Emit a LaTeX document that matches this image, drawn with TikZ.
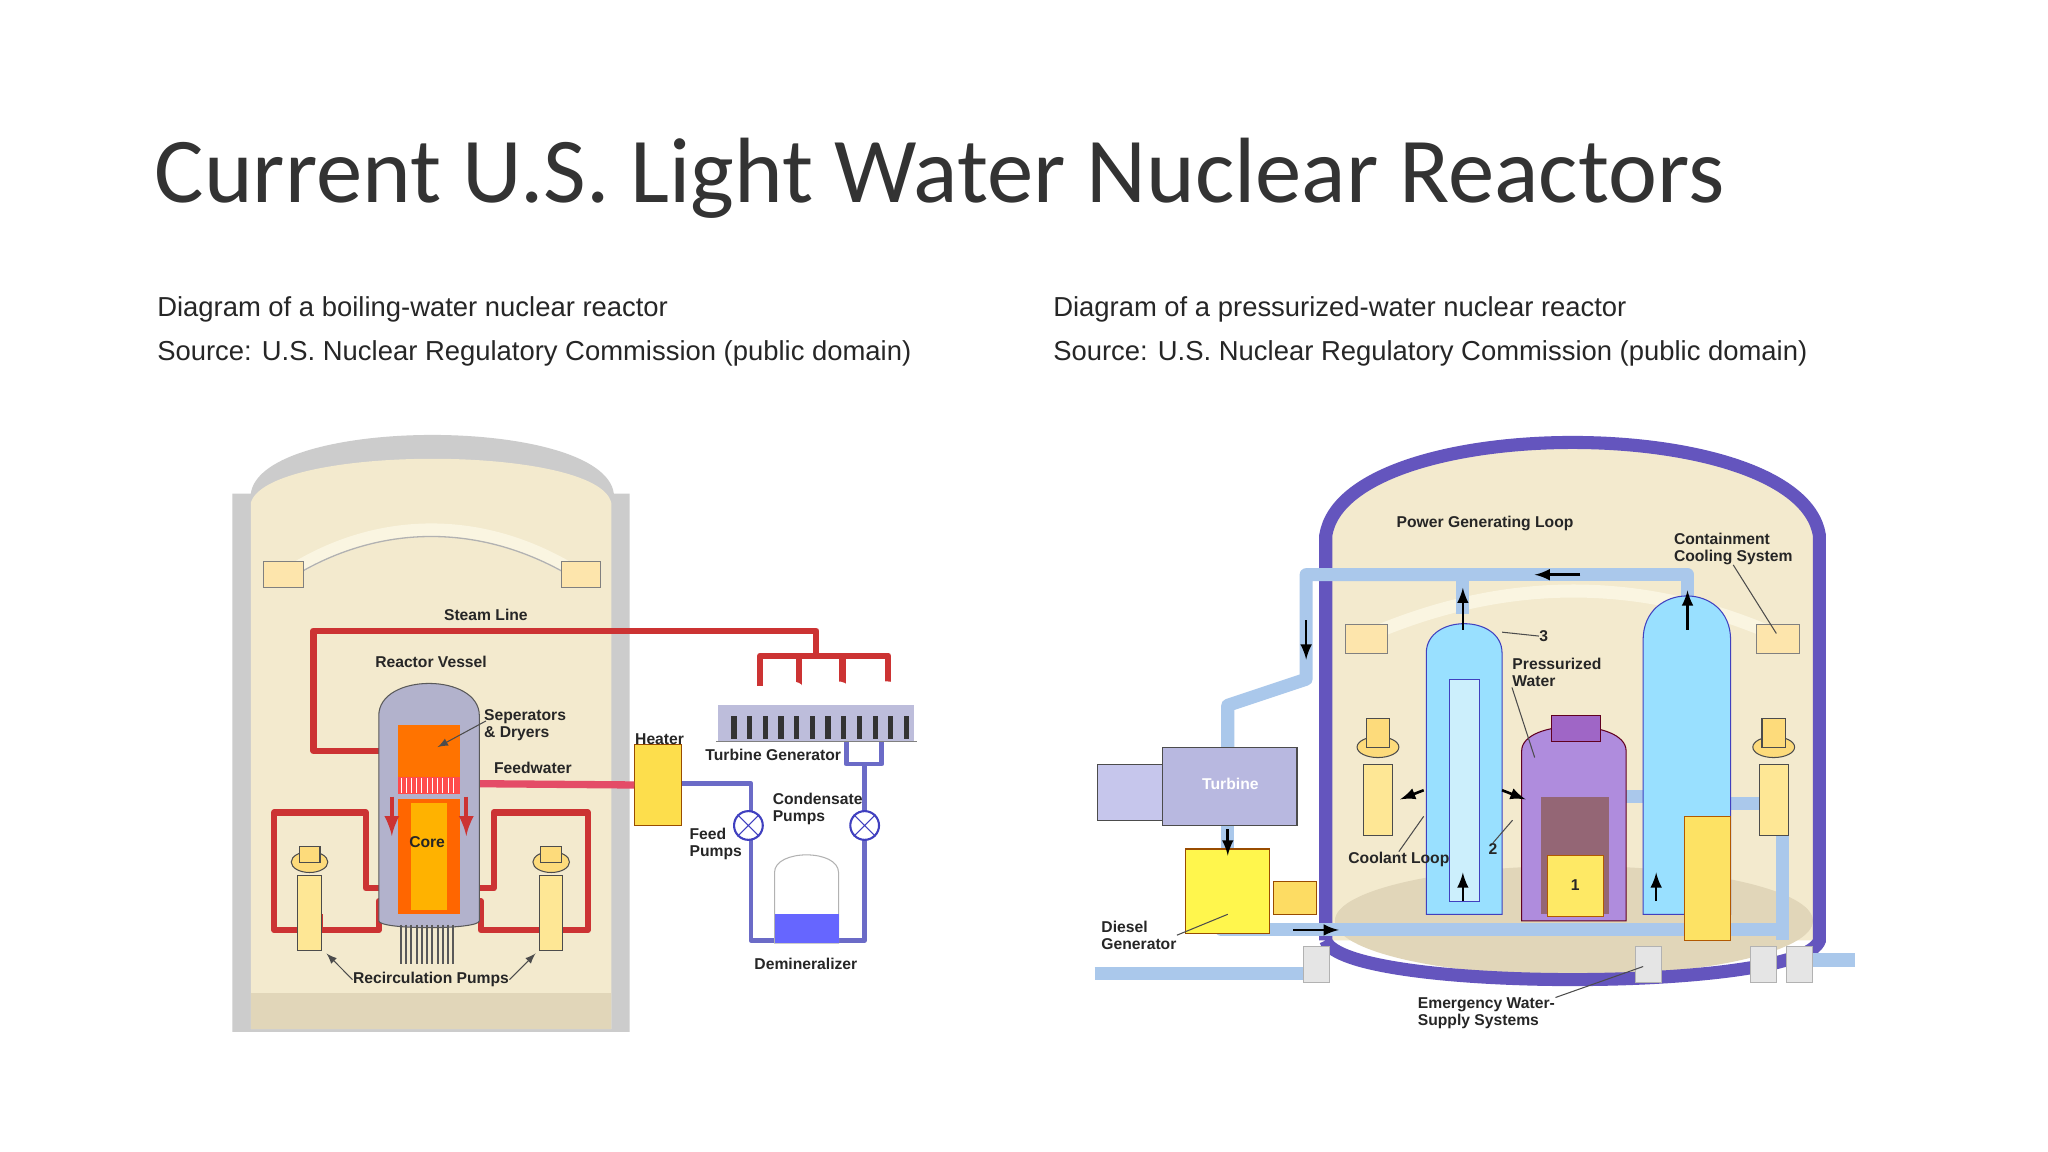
\documentclass[tikz,border=0pt]{standalone}
\usepackage{fontspec}
\setmainfont{Liberation Sans}
\newfontfamily\titlefont{Carlito}
\definecolor{bg}{RGB}{243,234,206}
\definecolor{floorc}{RGB}{225,214,185}
\definecolor{beamc}{RGB}{250,245,225}
\definecolor{purp}{RGB}{100,85,190}
\definecolor{lbp}{RGB}{170,200,235}
\begin{document}
\begin{tikzpicture}[x=0.5pt,y=-0.5pt,
 lbl/.style={font=\fontsize{6}{6.5}\selectfont\bfseries,text=black!85,inner sep=0pt,align=left},
 red pipe/.style={draw=red!75!black!80,line width=2.4pt,line join=round},
 blue pipe/.style={draw=blue!45!gray!80,line width=1.8pt,line join=round},
 lb pipe/.style={draw=lbp,line width=5pt,line join=round},
 beige/.style={fill=bg},
 sub/.style={font=\fontsize{10.5}{12}\selectfont,anchor=base west,inner sep=0pt,text=black!85}]
\useasboundingbox (0,0) rectangle (1568,882);
\fill[white] (0,0) rectangle (1568,882);
\node[anchor=base west,inner sep=0pt,font=\titlefont\fontsize{35.5}{38}\selectfont,text=black!80] (title) at (118,155) {Current U.S. Light Water Nuclear Reactors};
\node[sub] (s1) at (120,242) {Diagram of a boiling-water nuclear reactor};
\node[sub] (s2) at (120,276) {Source: U.S. Nuclear Regulatory Commission (public domain)};
\node[sub] (s3) at (806,242) {Diagram of a pressurized-water nuclear reactor};
\node[sub] (s4) at (806,276) {Source: U.S. Nuclear Regulatory Commission (public domain)};

% ===== LEFT BWR =====
\fill[gray!40] (178,790) -- (178,378) -- (192,378) .. controls (200,318) and (462,318) .. (470,378) -- (482,378) -- (482,790) -- cycle;
\fill[beige] (192,788) -- (192,385) .. controls (205,340) and (458,340) .. (468,385) -- (468,788) -- cycle;
\fill[floorc] (192,760) rectangle (468,788);
\draw[line width=5pt,draw=beamc] (222,438) .. controls (290,395) and (370,395) .. (440,438);
\draw[line width=0.5pt,gray!60] (222,443) .. controls (290,400) and (370,400) .. (440,443);
\fill[yellow!40!orange!30,draw=gray] (202,430) rectangle (232,450);
\fill[yellow!40!orange!30,draw=gray] (430,430) rectangle (460,450);
\draw[red pipe] (292,575) -- (240,575) -- (240,483) -- (625,483) -- (625,500);
\draw[red pipe] (582,525) -- (582,502) -- (680,502) -- (680,525);
\draw[red pipe] (612,502) -- (612,525);\draw[red pipe] (645,502) -- (645,525);
\foreach \x in {605,640,678}{\draw[white,fill=white] (\x,526) ellipse (9 and 4);}
\fill[blue!30!gray!40] (550,540) rectangle (700,568);
\foreach \x in {560,572,584,596,608,620,632,644,656,668,680,692}{\fill[black!80] (\x,548) rectangle (\x+4,566);}
\draw[gray] (548,568) -- (702,568);
\draw[blue pipe] (648,568) -- (648,585) -- (662,585) -- (662,720) -- (575,720) -- (575,600) -- (522,600);
\draw[blue pipe] (675,568) -- (675,585) -- (662,585);
\node[draw=blue!50!gray,fill=white,circle,minimum size=11pt,inner sep=0pt,line width=0.8pt] (fp) at (573,632) {};
\draw[blue!50!gray] (fp.north west) -- (fp.south east) (fp.north east) -- (fp.south west);
\node[draw=blue!50!gray,fill=white,circle,minimum size=11pt,inner sep=0pt,line width=0.8pt] (cp) at (662,632) {};
\draw[blue!50!gray] (cp.north west) -- (cp.south east) (cp.north east) -- (cp.south west);
\fill[white,draw=gray!60] (593,722) -- (593,668) .. controls (593,650) and (642,650) .. (642,668) -- (642,722) -- cycle;
\fill[blue!60] (593,700) rectangle (642,722);
\node[fill=yellow!70!orange!70,draw=orange!60!black,minimum width=18pt,minimum height=31pt,inner sep=0pt] (heater) at (504,601) {};
\draw[draw=purple!60!red!70,line width=2.8pt] (heater.west) -- (365,600);
\draw[red pipe] (300,680) -- (280,680) -- (280,622) -- (210,622) -- (210,712) -- (230,712);
\draw[red pipe] (245,700) -- (245,712) -- (290,712) -- (290,690) -- (300,690);
\draw[red pipe] (357,680) -- (378,680) -- (378,622) -- (450,622) -- (450,712) -- (430,712);
\draw[red pipe] (415,700) -- (415,712) -- (368,712) -- (368,690) -- (357,690);
\foreach \px in {237,422}{
 \fill[yellow!60!orange!40,draw=gray!60!black] (\px-9,670) rectangle (\px+9,728);
 \fill[yellow!50!orange!50,draw=gray!60!black] (\px,660) ellipse (14 and 8);
 \fill[yellow!50!orange!50,draw=gray!60!black] (\px-8,648) rectangle (\px+8,660);
}
\fill[blue!20!gray!50,draw=gray!70!black] (290,705) -- (290,548) .. controls (290,515) and (367,515) .. (367,548) -- (367,705) .. controls (367,712) and (290,712) .. (290,705);
\fill[orange!90!red] (305,555) rectangle (352,595);
\fill[red!70] (305,595) rectangle (352,608);
\foreach \x in {307,311,...,350}{\draw[white,line width=0.3pt] (\x,596) -- (\x,607);}
\fill[orange!80!red] (305,612) rectangle (352,700);
\fill[orange!60!yellow] (315,615) rectangle (342,697);
\draw[red pipe,line width=1.6pt,-latex] (300,610) -- (300,640);
\draw[red pipe,line width=1.6pt,-latex] (357,610) -- (357,640);
\foreach \x in {307,311,...,350}{\draw[gray!70!black,line width=0.8pt] (\x,708) -- (\x,738);}
\draw[black!70,-latex] (372,552) -- (335,572);
\node[lbl] (l1) at (372,471) {Steam Line};
\node[lbl] (l2) at (330,507) {Reactor Vessel};
\node[lbl] (l3) at (402,555) {Seperators\\\& Dryers};
\node[lbl] (l4) at (408,588) {Feedwater};
\node[lbl] (l5) at (505,566) {Heater};
\node[lbl] (l6) at (592,578) {Turbine Generator};
\node[lbl] (l7) at (626,619) {Condensate\\Pumps};
\node[lbl] (l8) at (548,646) {Feed\\Pumps};
\node[lbl] (l9) at (327,645) {Core};
\node[lbl] (l10) at (330,750) {Recirculation Pumps};
\node[lbl] (l11) at (617,738) {Demineralizer};
\draw[black!70,-latex] (l10.west) -- (250,730);
\draw[black!70,-latex] (l10.east) -- (410,730);

% ===== RIGHT PWR =====
\fill[beige] (1015,720) -- (1015,410) .. controls (1030,315) and (1378,315) .. (1393,410) -- (1393,720) -- cycle;
\fill[floorc] (1205,705) ellipse (183 and 42);
\draw[draw=purp,line width=5pt] (1015,720) -- (1015,410) .. controls (1030,315) and (1378,315) .. (1393,410) -- (1393,720) .. controls (1380,760) and (1028,760) .. (1015,720);
\draw[line width=5pt,draw=beamc] (1040,490) .. controls (1150,440) and (1260,440) .. (1368,490);
\fill[yellow!40!orange!30,draw=gray] (1030,478) rectangle (1062,500);
\fill[yellow!40!orange!30,draw=gray] (1345,478) rectangle (1378,500);
\draw[lb pipe] (1120,470) -- (1120,440) -- (1292,440) -- (1292,470);
\draw[lb pipe] (1120,440) -- (1000,440) -- (1000,520) -- (940,540) -- (940,575);
\draw[lb pipe] (940,630) -- (940,650);
\draw[lb pipe] (838,745) -- (1005,745);
\draw[lb pipe] (935,700) -- (935,712) -- (1360,712);
\draw[lb pipe] (1122,700) -- (1122,675);
\draw[lb pipe] (1268,700) -- (1268,675);
\draw[lb pipe] (1245,610) -- (1290,610) -- (1290,625);
\draw[lb pipe] (1325,615) -- (1365,615) -- (1365,720);
\draw[lb pipe] (1380,735) -- (1420,735);
\fill[blue!30!cyan!40,draw=blue!50!gray] (1092,700) -- (1092,500) .. controls (1092,470) and (1150,470) .. (1150,500) -- (1150,700) -- cycle;
\fill[cyan!20,draw=blue!50!gray] (1110,690) rectangle (1133,520);
\fill[blue!30!cyan!40,draw=blue!50!gray] (1258,700) -- (1258,490) .. controls (1258,445) and (1325,445) .. (1325,490) -- (1325,700) -- cycle;
\fill[gray!50!blue!30,draw=gray!60!black] (840,585) rectangle (890,628);
\fill[gray!60!blue!40,draw=gray!60!black] (890,572) rectangle (993,632);
\fill[yellow!70,draw=orange!60!black] (908,650) rectangle (972,715);
\fill[yellow!60!orange!60,draw=orange!60!black] (975,675) rectangle (1008,700);
\fill[purple!40!blue!45,draw=purple!50!black] (1165,705) -- (1165,575) .. controls (1165,550) and (1245,550) .. (1245,575) -- (1245,705) -- cycle;
\fill[purple!50!blue!60,draw=purple!50!black] (1188,568) rectangle (1225,548);
\fill[purple!40!black!60] (1180,610) rectangle (1232,700);
\fill[yellow!80!orange!60,draw=orange!70!black] (1185,655) rectangle (1228,702);
\foreach \px in {1055,1358}{
 \fill[yellow!60!orange!40,draw=gray!60!black] (\px-11,585) rectangle (\px+11,640);
 \fill[yellow!50!orange!50,draw=gray!60!black] (\px,572) ellipse (16 and 8);
 \fill[yellow!50!orange!50,draw=gray!60!black] (\px-9,550) rectangle (\px+9,572);
}
\fill[yellow!70!orange!60,draw=orange!70!black] (1290,625) rectangle (1325,720);
\foreach \ex in {1008,1262,1350,1378}{\fill[gray!20,draw=gray!60] (\ex-10,725) rectangle (\ex+10,752);}
\draw[black,-latex,line width=1pt] (1210,440) -- (1175,440);
\draw[black,-latex,line width=1pt] (1000,475) -- (1000,505);
\draw[black,-latex,line width=1pt] (1120,482) -- (1120,450);
\draw[black,-latex,line width=1pt] (1292,482) -- (1292,452);
\draw[black,-latex,line width=1pt] (940,635) -- (940,655);
\draw[black,-latex,line width=1pt] (1120,690) -- (1120,668);
\draw[black,-latex,line width=1pt] (1268,690) -- (1268,668);
\draw[black,-latex,line width=1pt] (990,712) -- (1025,712);
\draw[black,-latex,line width=1pt] (1090,605) -- (1072,612);
\draw[black,-latex,line width=1pt] (1150,605) -- (1168,612);
\node[lbl] (r1) at (1137,401) {Power Generating Loop};
\node[lbl] (r2) at (1327,420) {Containment\\Cooling System};
\node[lbl] (r3) at (1182,487) {3};
\node[lbl] (r4) at (1192,515) {Pressurized\\Water};
\node[lbl,text=white] (r5) at (942,600) {Turbine};
\node[lbl] (r6) at (1071,658) {Coolant Loop};
\node[lbl] (r7) at (1143,650) {2};
\node[lbl] (r8) at (1206,678) {1};
\node[lbl] (r9) at (872,716) {Diesel\\Generator};
\node[lbl] (r10) at (1138,776) {Emergency Water-\\Supply Systems};
\draw[black!70] (r2.south) -- (1360,485);
\draw[black!70] (r3.west) -- (1150,484);
\draw[black!70] (r4.south west) -- (1175,580);
\draw[black!70] (r9.east) -- (940,700);
\draw[black!70] (r10.north east) -- (1258,740);
\draw[black!70] (r7.north) -- (1158,628);
\draw[black!70] (r6.north) -- (1090,625);
\end{tikzpicture}
\end{document}
